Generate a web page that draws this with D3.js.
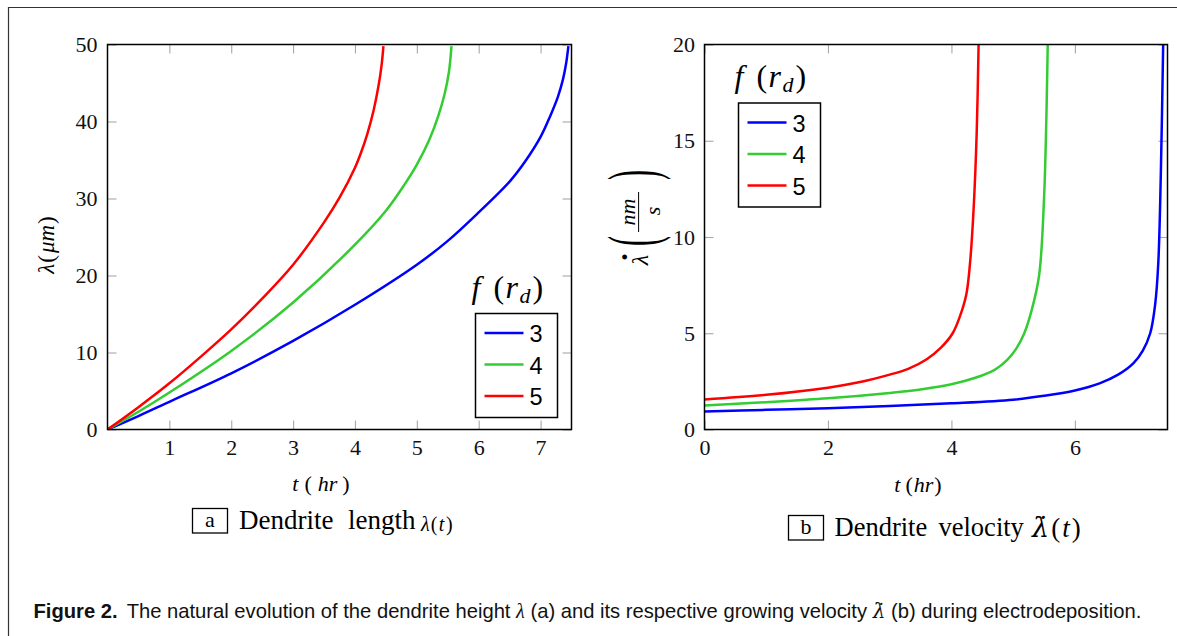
<!DOCTYPE html>
<html><head><meta charset="utf-8">
<script src="https://cdn.jsdelivr.net/npm/d3@7"></script>
<style>body{margin:0;background:#fff}svg{display:block}</style>
</head><body>
<svg id="c" width="1177" height="636"></svg>
<script>
// ---------- data ----------
const seriesNames = ["3", "4", "5"];
const seriesColors = ["#0000ff", "#33cc33", "#ff0000"];

// panel a: dendrite length lambda(t) [um] vs t [hr]
const lenTimeBlue  = [0, 0.5, 1, 2, 3, 4, 5, 5.5, 6, 6.5, 6.75, 7.0, 7.15, 7.28, 7.36, 7.41, 7.45];
const lenBlue      = [0, 1.75, 3.6, 7.3, 11.5, 16.2, 21.4, 24.5, 28.2, 32.2, 34.8, 38.0, 40.6, 43.2, 45.4, 47.4, 49.8];
const lenTimeGreen = [0, 0.5, 1, 2, 3, 4, 4.5, 4.8, 5.0, 5.2, 5.35, 5.45, 5.52, 5.56];
const lenGreen     = [0, 2.3, 4.8, 10.2, 16.5, 24.0, 28.4, 31.8, 34.4, 37.6, 40.8, 43.6, 46.5, 49.8];
const lenTimeRed   = [0, 0.5, 1, 1.5, 2, 2.5, 3, 3.5, 3.75, 4.0, 4.1, 4.2, 4.3, 4.38, 4.43, 4.46];
const lenRed       = [0, 2.9, 6.0, 9.4, 13.0, 17.0, 21.4, 26.9, 30.1, 34.0, 36.0, 38.4, 41.4, 44.6, 47.3, 49.8];

// panel b: dendrite velocity [nm/s] vs t [hr]
const velTimeBlue  = [0, 1, 2, 3, 4, 5, 5.5, 6, 6.4, 6.7, 6.95, 7.1, 7.22, 7.3, 7.35, 7.39, 7.43];
const velBlue      = [0.94, 1.02, 1.11, 1.22, 1.36, 1.55, 1.75, 2.03, 2.4, 2.85, 3.45, 4.1, 5.0, 6.5, 8.6, 13, 20];
const velTimeGreen = [0, 1, 2, 3, 3.5, 4, 4.4, 4.7, 4.9, 5.05, 5.18, 5.3, 5.42, 5.5, 5.56];
const velGreen     = [1.25, 1.42, 1.62, 1.9, 2.08, 2.35, 2.7, 3.1, 3.6, 4.2, 5.0, 6.2, 8.0, 12, 20];
const velTimeRed   = [0, 1, 2, 2.5, 3, 3.3, 3.6, 3.83, 4.02, 4.14, 4.24, 4.3, 4.36, 4.41, 4.44];
const velRed       = [1.56, 1.8, 2.17, 2.45, 2.85, 3.15, 3.65, 4.25, 5.0, 5.9, 7.0, 8.6, 11.5, 15.5, 20];

const lenXTicks = [1, 2, 3, 4, 5, 6, 7];
const lenYTicks = [0, 10, 20, 30, 40, 50];
const velXTicks = [0, 2, 4, 6];
const velYTicks = [0, 5, 10, 15, 20];

// ---------- drawing ----------
const svg = d3.select("#c");
const SERIF = "'Liberation Serif','Times New Roman',serif";
const SANS = "'Liberation Sans',Arial,sans-serif";
const DOTF = "'DejaVu Serif',serif";
const zip = (a, b) => a.map((v, i) => [v, b[i]]);

svg.append("path").attr("d", "M8.5,636V7.5H1177").attr("fill", "none")
  .attr("stroke", "#333").attr("stroke-width", 1.2);

function panel(cfg) {
  const g = svg.append("g");
  const x = d3.scaleLinear().domain([0, 7.5]).range([cfg.x0, cfg.x1]);
  const y = d3.scaleLinear().domain([0, cfg.ymax]).range([cfg.y1, cfg.y0]);
  const tickCol = "#a8a8a8";
  const style = sel => {
    sel.select(".domain").remove();
    sel.selectAll(".tick line").attr("stroke", tickCol).attr("stroke-width", 1.1);
    sel.selectAll(".tick text").style("font-family", SERIF).style("font-size", "22px").attr("fill", "#111");
  };
  g.append("g").attr("transform", `translate(0,${cfg.y1})`)
    .call(d3.axisBottom(x).tickValues(cfg.xt).tickSize(-9).tickPadding(10).tickFormat(d3.format("d"))).call(style);
  g.append("g").attr("transform", `translate(0,${cfg.y0})`)
    .call(d3.axisTop(x).tickValues(cfg.xt).tickSize(-9).tickFormat("")).call(style);
  g.append("g").attr("transform", `translate(${cfg.x0},0)`)
    .call(d3.axisLeft(y).tickValues(cfg.yt).tickSize(-9).tickPadding(cfg.ypad).tickFormat(d3.format("d"))).call(style);
  g.append("g").attr("transform", `translate(${cfg.x1},0)`)
    .call(d3.axisRight(y).tickValues(cfg.yt).tickSize(-9).tickFormat("")).call(style);

  const cid = "clip" + cfg.id;
  svg.append("clipPath").attr("id", cid).append("rect")
    .attr("x", cfg.x0).attr("y", cfg.y0).attr("width", cfg.x1 - cfg.x0).attr("height", cfg.y1 - cfg.y0);
  const line = d3.line().x(d => x(d[0])).y(d => y(d[1])).curve(d3.curveCatmullRom.alpha(0.5));
  const cg = g.append("g").attr("clip-path", `url(#${cid})`);
  cfg.series.forEach((s, i) => {
    cg.append("path").attr("d", line(s)).attr("fill", "none")
      .attr("stroke", seriesColors[i]).attr("stroke-width", 2.5).attr("stroke-linejoin", "round");
  });
  g.append("rect").attr("x", cfg.x0).attr("y", cfg.y0).attr("width", cfg.x1 - cfg.x0)
    .attr("height", cfg.y1 - cfg.y0).attr("fill", "none").attr("stroke", "#000").attr("stroke-width", 1.5);

  // legend
  const L = cfg.leg;
  const tt = g.append("g").style("font-family", SERIF).attr("fill", "#000");
  const ty = L.y - 16;
  tt.append("text").attr("x", L.x - 4).attr("y", ty).style("font-size", "32px").attr("font-style", "italic").text("f");
  tt.append("text").attr("x", L.x + 18).attr("y", ty).style("font-size", "32px").text("(");
  tt.append("text").attr("x", L.x + 30).attr("y", ty).style("font-size", "32px").attr("font-style", "italic").text("r");
  tt.append("text").attr("x", L.x + 44).attr("y", ty + 5).style("font-size", "22px").attr("font-style", "italic").text("d");
  tt.append("text").attr("x", L.x + 57).attr("y", ty).style("font-size", "32px").text(")");
  g.append("rect").attr("x", L.x).attr("y", L.y).attr("width", 82).attr("height", 104)
    .attr("fill", "#fff").attr("stroke", "#000").attr("stroke-width", 1.5);
  seriesNames.forEach((n, i) => {
    const ry = L.y + 19.5 + i * 31.5;
    g.append("line").attr("x1", L.x + 9).attr("x2", L.x + 48).attr("y1", ry).attr("y2", ry)
      .attr("stroke", seriesColors[i]).attr("stroke-width", 2.5);
    g.append("text").attr("x", L.x + 54).attr("y", ry + 9.3).style("font-family", SANS)
      .style("font-size", "23.5px").attr("fill", "#000").text(n);
  });
  return {x, y};
}

panel({id: "a", x0: 107.5, x1: 571.5, y0: 44.5, y1: 429.5, ymax: 50, xt: lenXTicks, yt: lenYTicks, ypad: 10,
  series: [zip(lenTimeBlue, lenBlue), zip(lenTimeGreen, lenGreen), zip(lenTimeRed, lenRed)],
  leg: {x: 475.5, y: 313.5}});
panel({id: "b", x0: 704.5, x1: 1167.5, y0: 44.5, y1: 429.5, ymax: 20, xt: velXTicks, yt: velYTicks, ypad: 9.5,
  series: [zip(velTimeBlue, velBlue), zip(velTimeGreen, velGreen), zip(velTimeRed, velRed)],
  leg: {x: 738.5, y: 103}});

// rich text helper: parts = [text, italic, dx, dy, family]
function rich(sel, parts) {
  parts.forEach(p => {
    const t = sel.append("tspan").text(p[0]);
    if (p[1]) t.attr("font-style", "italic");
    if (p[2]) t.attr("dx", p[2]);
    if (p[3]) t.attr("dy", p[3]);
    if (p[4]) t.style("font-family", p[4]);
  });
  return sel;
}

rich(svg.append("text").attr("x", 321).attr("y", 491).attr("text-anchor", "middle")
  .style("font-family", SERIF).style("font-size", "22px"), [["t", 1], ["(", 0, 6], ["hr", 1, 6], [")", 0, 5]]);
rich(svg.append("text").attr("x", 918).attr("y", 492).attr("text-anchor", "middle")
  .style("font-family", SERIF).style("font-size", "22px"), [["t", 1], ["(", 0, 5], ["hr", 1, 1], [")", 0, 1]]);

rich(svg.append("text").attr("transform", "translate(54,245) rotate(-90)").attr("text-anchor", "middle")
  .style("font-family", SERIF).style("font-size", "23px"), [["λ", 1], ["(", 0, 1], ["μm", 1, 2], [")", 0, 1]]);

// right y label: lambda-dot (nm / s), rotated
const yl = svg.append("g").attr("transform", "translate(638.6,220) rotate(-90)")
  .style("font-family", SERIF).attr("fill", "#000");
yl.append("text").attr("x", -40).attr("y", 9).attr("text-anchor", "middle").style("font-size", "24px")
  .attr("font-style", "italic").text("λ");
yl.append("text").attr("x", -37).attr("y", -12).attr("text-anchor", "middle").style("font-size", "30px")
  .attr("font-weight", "bold").text(".");
yl.append("text").attr("transform", "translate(-21,17.5) scale(1,2.3)").attr("text-anchor", "middle")
  .style("font-size", "30px").text("(");
yl.append("text").attr("transform", "translate(45,17.5) scale(1,2.3)").attr("text-anchor", "middle")
  .style("font-size", "30px").text(")");
yl.append("line").attr("x1", -12).attr("x2", 28).attr("y1", 0).attr("y2", 0).attr("stroke", "#000").attr("stroke-width", 1);
yl.append("text").attr("x", 8).attr("y", -4).attr("text-anchor", "middle").style("font-size", "22px")
  .attr("font-style", "italic").text("nm");
yl.append("text").attr("x", 9).attr("y", 21).attr("text-anchor", "middle").style("font-size", "22px")
  .attr("font-style", "italic").text("s");

// sub-captions
const cap = svg.append("g").style("font-family", SERIF).attr("fill", "#000");
cap.append("rect").attr("x", 192.5).attr("y", 508.5).attr("width", 35).attr("height", 24.5)
  .attr("fill", "none").attr("stroke", "#000").attr("stroke-width", 1.3);
cap.append("text").attr("x", 210).attr("y", 527).attr("text-anchor", "middle").style("font-size", "22px").text("a");
cap.append("text").attr("x", 239).attr("y", 529).style("font-size", "27px").text("Dendrite");
cap.append("text").attr("x", 348).attr("y", 529).style("font-size", "27px").text("length");
rich(cap.append("text").attr("x", 421).attr("y", 531).style("font-size", "20px"),
  [["λ", 1], ["(", 0, 1], ["t", 1, 1.5], [")", 0, 1.5]]);

cap.append("rect").attr("x", 788.5).attr("y", 515.5).attr("width", 35).attr("height", 24.5)
  .attr("fill", "none").attr("stroke", "#000").attr("stroke-width", 1.3);
cap.append("text").attr("x", 806).attr("y", 534).attr("text-anchor", "middle").style("font-size", "22px").text("b");
cap.append("text").attr("x", 834.5).attr("y", 536).style("font-size", "26.5px").text("Dendrite");
cap.append("text").attr("x", 938.5).attr("y", 536).style("font-size", "26.5px").text("velocity");
rich(cap.append("text").attr("x", 1032).attr("y", 537).style("font-size", "27px"),
  [["λ\u0307", 1, 0, 0, DOTF], ["(", 0, 2], ["t", 1, 2], [")", 0, 2]]);

// figure caption
const fc = svg.append("text").attr("x", 33.5).attr("y", 618).style("font-family", SANS).style("font-size", "17.5px").attr("fill", "#111");
fc.append("tspan").attr("font-weight", "bold").text("Figure 2.");
fc.append("tspan").attr("dx", 9).text("The natural evolution of the dendrite height ");
fc.append("tspan").style("font-family", SERIF).attr("font-style", "italic").text("λ");
fc.append("tspan").text(" (a) and its respective growing velocity ");
fc.append("tspan").style("font-family", DOTF).attr("font-style", "italic").text("λ\u0307");
fc.append("tspan").text(" (b) during electrodeposition.");
const w = fc.node().getComputedTextLength();
fc.style("font-size", (17.5 * 1100 / w) + "px");
</script>
</body></html>
